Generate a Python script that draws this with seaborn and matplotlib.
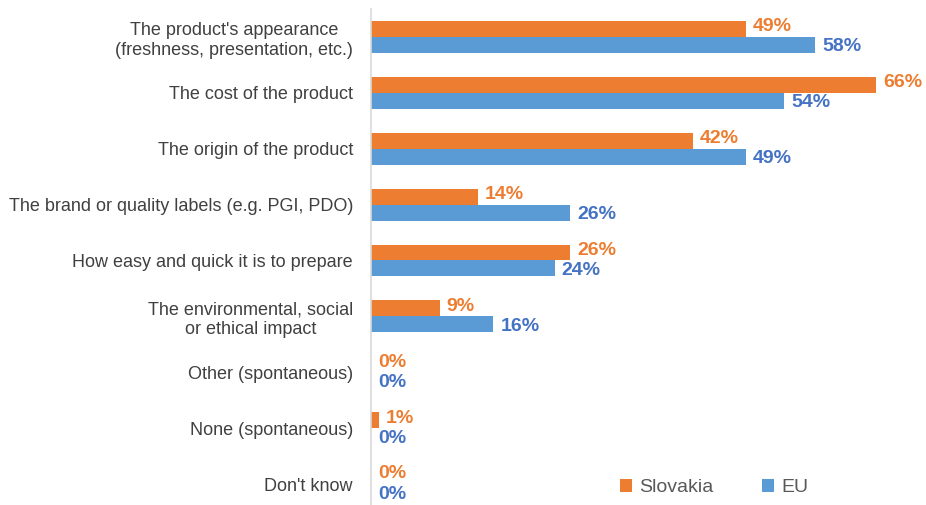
import matplotlib as mpl
import matplotlib.pyplot as plt
import seaborn as sns
import pandas as pd

mpl.use("Agg")

sns.set_style("white")
plt.rcParams["font.family"] = ["Liberation Sans", "DejaVu Sans"]

CATEGORIES = [
    "The product's appearance\n(freshness, presentation, etc.)",
    "The cost of the product",
    "The origin of the product",
    "The brand or quality labels (e.g. PGI, PDO)",
    "How easy and quick it is to prepare",
    "The environmental, social\nor ethical impact",
    "Other (spontaneous)",
    "None (spontaneous)",
    "Don't know",
]
SLOVAKIA = [49, 66, 42, 14, 26, 9, 0, 1, 0]
EU = [58, 54, 49, 26, 24, 16, 0, 0, 0]
SERIES = ["Slovakia", "EU"]

bar_cols = {"Slovakia": "#ED7D31", "EU": "#5B9BD5"}
text_cols = {"Slovakia": "#ED7D31", "EU": "#4472C4"}

df = pd.DataFrame(
    {
        "category": CATEGORIES * 2,
        "value": SLOVAKIA + EU,
        "series": ["Slovakia"] * len(CATEGORIES) + ["EU"] * len(CATEGORIES),
    }
)

fig = plt.figure(figsize=(9.26, 5.05), dpi=100)
ax = fig.add_axes([371 / 926, 0.0, 555 / 926, 496 / 505])

sns.barplot(
    data=df,
    x="value",
    y="category",
    hue="series",
    hue_order=SERIES,
    order=CATEGORIES,
    palette=bar_cols,
    orient="h",
    width=0.57,
    saturation=1,
    linewidth=0,
    ax=ax,
)

ax.set_xlim(0, 72.5)
ax.set_ylim(8.375, -0.5)
ax.set_xlabel("")
ax.set_ylabel("")
ax.set_xticks([])
for side in ["top", "right", "bottom"]:
    ax.spines[side].set_visible(False)
ax.spines["left"].set_color("#D9D9D9")
ax.spines["left"].set_linewidth(1.2)
ax.tick_params(axis="y", length=0, pad=13, labelsize=13, labelcolor="#404040")
for lbl in ax.get_yticklabels():
    lbl.set_multialignment("center")

# value labels, nudged apart a little like the original
nudge = {"Slovakia": 1.5, "EU": -1.5}
for container, name in zip(ax.containers, SERIES):
    anns = ax.bar_label(
        container,
        labels=[f"{v:.0f}%" for v in container.datavalues],
        padding=5,
        fontsize=14,
        fontweight="bold",
        color=text_cols[name],
    )
    for a in anns:
        a.xyann = (5, nudge[name])

leg = ax.legend(
    loc="lower right",
    bbox_to_anchor=(0.82, -0.018),
    ncol=2,
    frameon=False,
    fontsize=14,
    handlelength=0.6,
    handleheight=0.7,
    columnspacing=2.5,
    handletextpad=0.4,
)
for t in leg.get_texts():
    t.set_color("#595959")

fig.savefig("out.png", dpi=100)
